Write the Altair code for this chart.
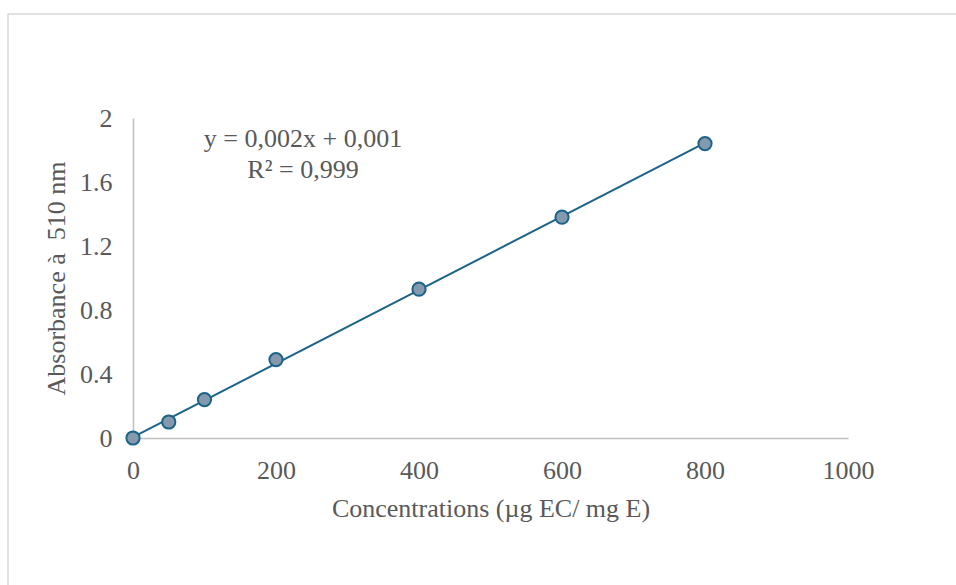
import altair as alt
import pandas as pd

conc = [0, 50, 100, 200, 400, 600, 800]
absorb = [0.0, 0.10, 0.24, 0.49, 0.93, 1.38, 1.84]
x_ticks = [0, 200, 400, 600, 800, 1000]
y_ticks = [0, 0.4, 0.8, 1.2, 1.6, 2]
eq_lines = ["y = 0,002x + 0,001", "R² = 0,999"]

df = pd.DataFrame({"conc": conc, "abs": absorb})
FONT = "Liberation Serif"
GREY = "#595959"
FS = 26

x_enc = alt.X("conc:Q", scale=alt.Scale(domain=[0, 1000], nice=False),
              axis=alt.Axis(values=x_ticks, format="d", title="Concentrations (µg EC/ mg E)", grid=False,
                            ticks=False, domainColor="#bfbfbf", domainWidth=1.5, labelFlush=False,
                            labelFont=FONT, labelFontSize=FS, labelColor=GREY, labelPadding=19,
                            titleFont=FONT, titleFontSize=FS, titleColor=GREY, titleFontWeight="normal",
                            titlePadding=12))
y_enc = alt.Y("abs:Q", scale=alt.Scale(domain=[0, 2], nice=False),
              axis=alt.Axis(values=y_ticks, format=".1~f", title="Absorbance à\u00a0 510 nm", grid=False,
                            ticks=False, domainColor="#bfbfbf", domainWidth=1.5, labelFlush=False,
                            labelFont=FONT, labelFontSize=FS, labelColor=GREY, labelPadding=21,
                            titleFont=FONT, titleFontSize=FS, titleColor=GREY, titleFontWeight="normal",
                            titlePadding=10))

border = alt.Chart(pd.DataFrame({"a": [0]})).mark_rect(
    fill=None, stroke="#d9d9d9", strokeWidth=1.5
).encode(x=alt.value(-125), x2=alt.value(840), y=alt.value(-104), y2=alt.value(480))

trend = alt.Chart(df).transform_regression("conc", "abs").mark_line(
    color="#1c6389", strokeWidth=2
).encode(x=x_enc, y=y_enc)

pts = alt.Chart(df).mark_point(
    filled=True, fill="#8499ad", stroke="#1c6389", strokeWidth=2, size=175, opacity=1, fillOpacity=1
).encode(x="conc:Q", y="abs:Q")

eq_df = pd.DataFrame({"t": eq_lines, "py": [21, 52]})
eq = alt.Chart(eq_df).mark_text(
    font=FONT, fontSize=FS, color=GREY, align="center", baseline="middle"
).encode(x=alt.value(170), y=alt.Y("py:Q", scale=None, axis=None), text="t:N")

chart = alt.layer(border, trend, pts, eq).properties(
    width=715, height=320,
    padding={"left": 133, "top": 118, "right": 108, "bottom": 147},
    autosize=alt.AutoSizeParams(type="none"),
    background="white",
).configure_view(stroke=None)

chart.save("out.html", embed_options={"renderer": "svg", "actions": False})
